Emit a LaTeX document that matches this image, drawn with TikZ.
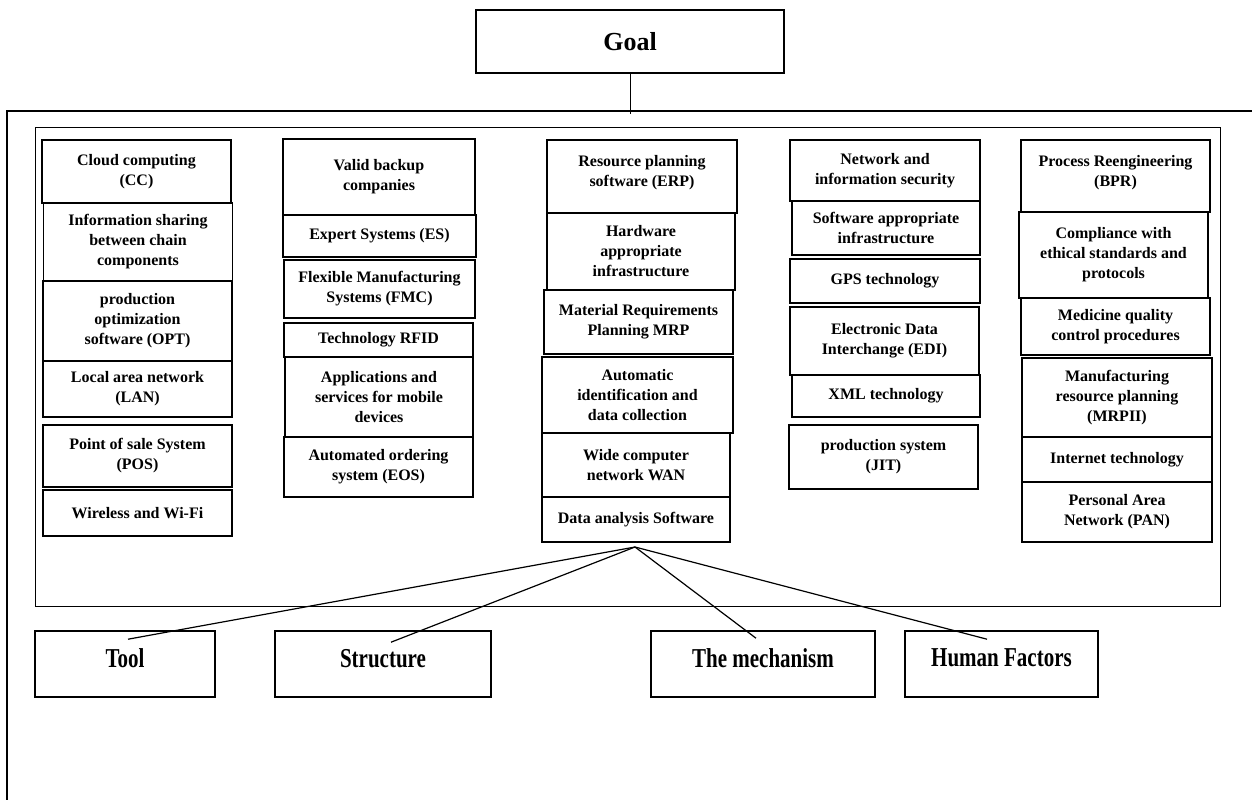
\documentclass[tikz,border=0pt]{standalone}
\usepackage{fontspec}
\setmainfont{Liberation Serif}
\usetikzlibrary{calc}
\newcommand{\tallword}[1]{\scalebox{1}[1.3]{#1}}

\begin{document}
\begin{tikzpicture}[x=1pt, y=-1pt,
    cell/.style={draw, line width=1.6pt, align=center, inner sep=0pt, minimum width=189pt,
        font=\fontsize{16}{20}\selectfont\bfseries},
    factor/.style={draw, line width=1.6pt, inner sep=0pt, minimum height=66pt, text depth=12pt,
        font=\fontsize{21}{25}\selectfont\bfseries},
    link/.style={line width=1.2pt}]
    \useasboundingbox (0,0) rectangle (1252,800);
    \draw[line width=1.3pt] (1252,111) -- (7,111) -- (7,800);
    \draw[line width=1pt] (35,127) rectangle (1220,606);
    \node[draw, line width=1.6pt, minimum width=308pt, minimum height=63pt,
        font=\fontsize{26}{30}\selectfont\bfseries] (goal) at (630,41.5) {Goal};
    \coordinate (top) at (632,114);
    \draw[line width=0.8pt] (goal.south) -- (goal.south |- top);
    \node[cell, minimum height=63pt] (cc) at (136.5,171.5) {Cloud computing\\(CC)};
    \node[cell, minimum height=78pt] (share) at (138,242) {Information sharing\\between chain\\components};
    \node[cell, minimum height=80pt] (opt) at (137.5,321) {production\\optimization\\software (OPT)};
    \node[cell, minimum height=56pt] (lan) at (137.5,389) {Local area network\\(LAN)};
    \node[cell, minimum height=62pt] (pos) at (137.5,456) {Point of sale System\\(POS)};
    \node[cell, minimum height=46pt] (wifi) at (137.5,513) {Wireless and Wi-Fi};
    \node[cell, minimum width=192pt, minimum height=76pt] (backup) at (379,177) {Valid backup\\companies};
    \node[cell, minimum width=193pt, minimum height=42pt] (es) at (379.5,236) {Expert Systems (ES)};
    \node[cell, minimum width=191pt, minimum height=58pt] (fmc) at (379.5,289) {Flexible Manufacturing\\Systems (FMC)};
    \node[cell, minimum height=34pt] (rfid) at (378.5,340) {Technology RFID};
    \node[cell, minimum width=188pt, minimum height=80pt] (mobile) at (379,397) {Applications and\\services for mobile\\devices};
    \node[cell, minimum height=60pt] (eos) at (378.5,467) {Automated ordering\\system (EOS)};
    \node[cell, minimum width=190pt, minimum height=73pt] (erp) at (642,176.5) {Resource planning\\software (ERP)\\[-8pt]};
    \node[cell, minimum width=188pt, minimum height=77pt] (hw) at (641,251.5) {Hardware\\appropriate\\infrastructure};
    \node[cell, minimum height=64pt] (mrp) at (638.5,322) {Material Requirements\\Planning MRP};
    \node[cell, minimum width=191pt, minimum height=76pt] (aidc) at (637.5,395) {Automatic\\identification and\\data collection};
    \node[cell, minimum width=188pt, minimum height=64pt] (wan) at (636,465) {Wide computer\\network WAN};
    \node[cell, minimum width=188pt, minimum height=45pt] (data) at (636,519.5) {Data analysis Software};
    \node[cell, minimum width=190pt, minimum height=61pt] (security) at (885,170.5) {Network and\\information security};
    \node[cell, minimum width=188pt, minimum height=54pt] (soft) at (886,228) {Software appropriate\\infrastructure};
    \node[cell, minimum width=190pt, minimum height=44pt] (gps) at (885,281) {GPS technology};
    \node[cell, minimum height=68pt] (edi) at (884.5,341) {Electronic Data\\Interchange (EDI)};
    \node[cell, minimum width=188pt, minimum height=42pt] (xml) at (886,396) {XML technology};
    \node[cell, minimum height=64pt] (jit) at (883.5,457) {production system\\(JIT)};
    \node[cell, minimum height=72pt] (bpr) at (1115.5,176) {Process Reengineering\\(BPR)\\[-10pt]};
    \node[cell, minimum height=86pt] (ethics) at (1113.5,255) {Compliance with\\ethical standards and\\protocols};
    \node[cell, minimum height=57pt] (quality) at (1115.5,326.5) {Medicine quality\\control procedures};
    \node[cell, minimum width=190pt, minimum height=79pt] (mrpii) at (1117,397.5) {Manufacturing\\resource planning\\(MRPII)};
    \node[cell, minimum width=190pt, minimum height=45pt] (internet) at (1117,459.5) {Internet technology};
    \node[cell, minimum width=190pt, minimum height=60pt] (pan) at (1117,512) {Personal Area\\Network (PAN)};
    \node[factor, minimum width=180pt] (tool) at (125,664) {\tallword{Tool}};
    \node[factor, minimum width=216pt] (structure) at (383,664) {\tallword{Structure}};
    \node[factor, minimum width=224pt] (mechanism) at (763,664) {\tallword{The mechanism}};
    \node[factor, minimum width=193pt] (human) at (1001.5,664) {\tallword{Human Factors}};
    \coordinate (apex) at (635,547);
    \draw[link] (apex) -- ($(tool.north)+(3,9)$);
    \draw[link] (apex) -- ($(structure.north)+(8,12)$);
    \draw[link] (apex) -- ($(mechanism.north)+(-7,8)$);
    \draw[link] (apex) -- ($(human.north)+(-14.5,9)$);
\end{tikzpicture}
\end{document}
